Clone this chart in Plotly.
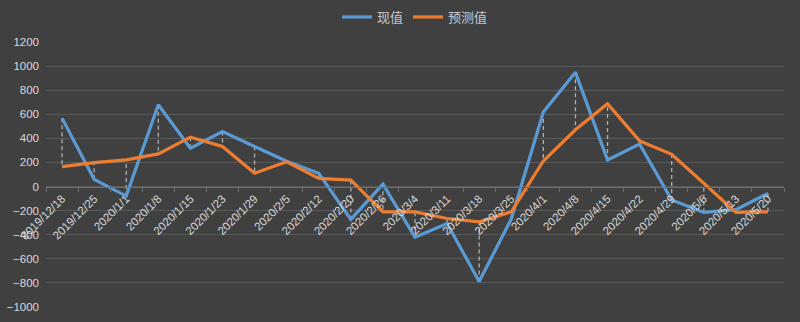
import plotly.graph_objects as go

# Weekly dates (category axis)
dates = ["2019/12/18", "2019/12/25", "2020/1/1", "2020/1/8", "2020/1/15", "2020/1/23",
         "2020/1/29", "2020/2/5", "2020/2/12", "2020/2/20", "2020/2/26", "2020/3/4",
         "2020/3/11", "2020/3/18", "2020/3/25", "2020/4/1", "2020/4/8", "2020/4/15",
         "2020/4/22", "2020/4/29", "2020/5/6", "2020/5/13", "2020/5/20"]

# 现值 (actual) and 预测值 (forecast)
actual = [568, 60, -79, 679, 318, 457, 332, 210, 110, -273, 20, -420,
          -307, -788, -270, 618, 948, 221, 352, -112, -215, -192, -57]
forecast = [165, 198, 221, 271, 410, 332, 110, 205, 68, 54, -210, -210,
            -265, -293, -210, 212, 471, 688, 379, 268, 27, -215, -210]

y_ticks = list(range(-1000, 1201, 200))

BG = "#404040"
GRID = "#5a5a5a"
TEXT = "#d9d9d9"
BLUE = "#5B9BD5"
ORANGE = "#ED7D31"

# High-low connectors between the two series at each date
hl_x, hl_y = [], []
for d, a, f in zip(dates, actual, forecast):
    hl_x += [d, d, None]
    hl_y += [a, f, None]

fig = go.Figure()
fig.add_trace(go.Scatter(x=hl_x, y=hl_y, mode="lines", showlegend=False,
                         hoverinfo="skip",
                         line=dict(color="#b0b0b0", width=1.3, dash="4px,3px")))
fig.add_trace(go.Scatter(x=dates, y=actual, mode="lines", name="现值",
                         line=dict(color=BLUE, width=3.2)))
fig.add_trace(go.Scatter(x=dates, y=forecast, mode="lines", name="预测值",
                         line=dict(color=ORANGE, width=3.2)))

y_min, y_max = -1000, 1200
fig.update_layout(
    width=800, height=322,
    margin=dict(l=46, r=16, t=42, b=15, autoexpand=False),
    paper_bgcolor=BG, plot_bgcolor=BG,
    font=dict(family="Liberation Sans, Arial, sans-serif", size=11, color=TEXT),
    showlegend=True,
    legend=dict(orientation="h", x=0.5, xanchor="center",
                yref="container", y=1 - 17 / 322, yanchor="middle",
                font=dict(family="Noto Sans CJK SC", size=13, color="#c8c8c8"),
                itemwidth=30, bgcolor="rgba(0,0,0,0)"),
    xaxis=dict(type="category", categoryorder="array", categoryarray=dates,
               range=[-0.5, len(dates) - 0.5], automargin=False,
               anchor="free", position=(0 - y_min) / (y_max - y_min),
               showline=True, linecolor="#6e6e6e", linewidth=1,
               ticks="outside", tickson="boundaries", ticklen=4,
               tickcolor="#6e6e6e", tickwidth=1,
               showgrid=False, zeroline=False,
               tickangle=-45, tickfont=dict(size=11.5, color=TEXT)),
    yaxis=dict(range=[y_min, y_max], tickvals=y_ticks, automargin=False,
               showgrid=True, gridcolor=GRID, gridwidth=1,
               zeroline=False, showline=False, ticks="",
               ticklabelstandoff=6, tickfont=dict(size=11.5, color=TEXT)),
)

fig.write_html("out.html")
